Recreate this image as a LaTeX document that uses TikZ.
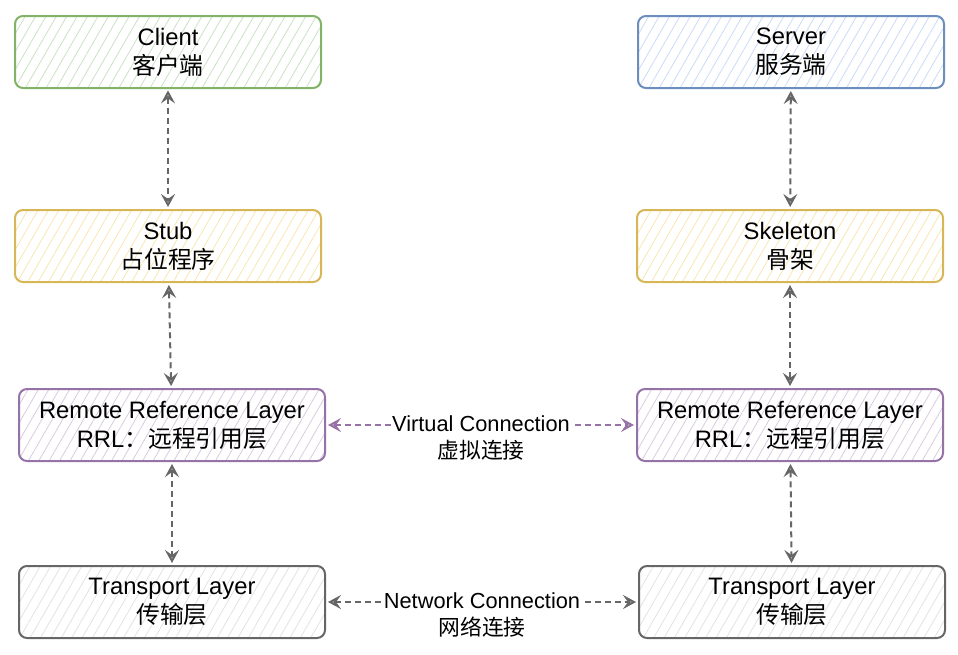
\documentclass[tikz,border=0pt]{standalone}
\usepackage{fontspec}
\setmainfont{Liberation Sans}
\newfontfamily\cjk{Noto Sans CJK SC}
\usetikzlibrary{arrows.meta, positioning, patterns.meta}
\definecolor{greenline}{HTML}{82B366}
\definecolor{greenfill}{HTML}{C9E2C5}
\definecolor{blueline}{HTML}{6C8EBF}
\definecolor{bluefill}{HTML}{C9DCF5}
\definecolor{yellowline}{HTML}{D6B656}
\definecolor{yellowfill}{HTML}{F7E6B0}
\definecolor{purpleline}{HTML}{9673A6}
\definecolor{purplefill}{HTML}{D9CAE0}
\definecolor{grayline}{HTML}{666666}
\definecolor{grayfill}{HTML}{E2E2E2}

\tikzset{
    layer/.style={draw=#1line, rounded corners=8pt, line width=2pt,
        minimum width=306pt, minimum height=72pt, align=center,
        pattern={Lines[angle=60, distance=9pt, line width=0.8pt]}, pattern color=#1fill,
        font=\fontsize{23.8}{29}\selectfont},
    link/.style={draw=#1, line width=2pt, dash pattern=on 6pt off 4pt, shorten <=2pt, shorten >=2pt,
        {Stealth[open, length=13pt, width=14pt, inset=5pt]}-{Stealth[open, length=13pt, width=14pt, inset=5pt]}},
    tag/.style={fill=white, inner sep=1pt, align=center, font=\fontsize{21.8}{27}\selectfont}
}

\begin{document}
\begin{tikzpicture}[x=1pt, y=1pt]
    \useasboundingbox (0,0) rectangle (958,-654);
    % client side
    \node[layer=green] (client) at (168,-52) {Client\\{\cjk 客户端}};
    \node[layer=yellow] (stub) at (168,-246) {Stub\\{\cjk 占位程序}};
    \node[layer=purple] (rrlL) at (172,-425) {Remote Reference Layer\\RRL{\cjk ：远程引用层}};
    \node[layer=gray] (tranL) at (172,-602) {Transport Layer\\{\cjk 传输层}};
    % server side
    \node[layer=blue] (server) at (791,-52) {Server\\{\cjk 服务端}};
    \node[layer=yellow] (skel) at (790,-246) {Skeleton\\{\cjk 骨架}};
    \node[layer=purple] (rrlR) at (790,-425) {Remote Reference Layer\\RRL{\cjk ：远程引用层}};
    \node[layer=gray] (tranR) at (792,-602) {Transport Layer\\{\cjk 传输层}};

    \draw[link=grayline] (client) -- (stub);
    \draw[link=grayline] (stub) -- (rrlL);
    \draw[link=grayline] (rrlL) -- (tranL);
    \draw[link=grayline] (server) -- (skel);
    \draw[link=grayline] (skel) -- (rrlR);
    \draw[link=grayline] (rrlR) -- (tranR);

    \draw[link=purpleline] (rrlL) -- node[tag, yshift=-13pt] {Virtual Connection\\{\cjk 虚拟连接}} (rrlR);
    \draw[link=grayline] (tranL) -- node[tag, yshift=-13pt] {Network Connection\\{\cjk 网络连接}} (tranR);
\end{tikzpicture}
\end{document}
